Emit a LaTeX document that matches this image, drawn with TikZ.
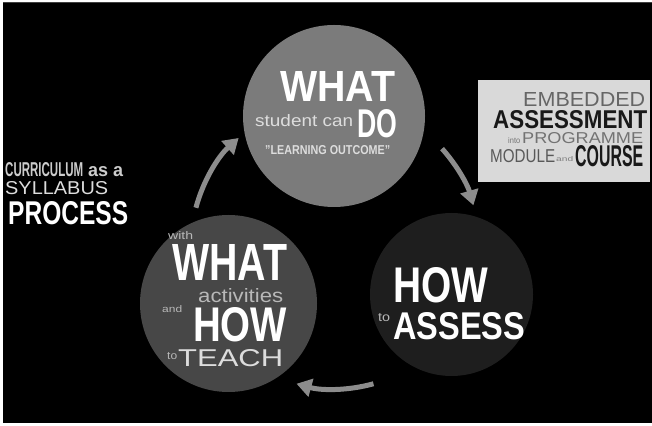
\documentclass[tikz,border=0pt]{standalone}
\usepackage{fontspec}
\setmainfont{Liberation Sans}
\usepackage{graphicx}
\usetikzlibrary{arrows.meta}

\definecolor{topgray}{HTML}{7B7B7B}
\definecolor{midgray}{HTML}{474747}
\definecolor{darkgray}{HTML}{1E1E1E}
\definecolor{arrowgray}{HTML}{8C8C8C}
\definecolor{boxgray}{HTML}{D9D9D9}
\definecolor{softwhite}{HTML}{DDDDDD}
\definecolor{dimwhite}{HTML}{B8B8B8}

% squeeze a word into a box of given width and height (pt)
\newcommand{\fitword}[3]{\resizebox{#1pt}{#2pt}{#3}}

\tikzset{
  word/.style={inner sep=0pt, anchor=south west},
  stage/.style={circle, inner sep=0pt},
  cyclearrow/.style={line width=5pt, draw=arrowgray, -{Triangle[width=18pt,length=15pt]}},
}

\begin{document}
\begin{tikzpicture}[x=1pt,y=1pt]
  \useasboundingbox (0,0) rectangle (652,425);
  \fill[white] (0,0) rectangle (652,425);
  \fill[black] (3,2) rectangle (652,423);
  \draw[black!75,line width=1pt] (3,422.5) -- (652,422.5);

  % the three stages
  \node[stage, fill=topgray, minimum size=182pt] (outcome) at (334,309) {};
  \node[stage, fill=midgray, minimum size=177pt] (teach) at (228.5,121.5) {};
  \node[stage, fill=darkgray, minimum size=163pt] (assess) at (451.5,130.5) {};

  % cycle arrows
  \coordinate (cyc) at (335,180);
  \path (cyc) ++(165:144) coordinate (arrA);
  \path (cyc) ++(42:144) coordinate (arrB);
  \path (cyc) ++(-74.5:144) coordinate (arrC);
  \draw[cyclearrow] (arrA) arc[start angle=165, end angle=132, radius=144];
  \draw[cyclearrow] (arrB) arc[start angle=42, end angle=16, radius=144];
  \draw[cyclearrow] (arrC) arc[start angle=-74.5, end angle=-105.5, radius=144];

  % top stage text
  \node[word, text=white] (whatA) at (280,323) {\fitword{115}{30}{\bfseries WHAT}};
  \node[word, text=softwhite] (student) at (255,298) {\fitword{98}{12}{student can}};
  \node[word, text=white] (doA) at (357,287) {\fitword{40}{28}{\bfseries DO}};
  \node[word, text=softwhite] (lo) at (265,270) {\fitword{125}{9}{\bfseries \symbol{34}LEARNING OUTCOME\symbol{34}}};

  % embedded box
  \fill[boxgray] (478,345) rectangle (650,243);
  \node[word, text=black!60] (embedded) at (523,318) {\fitword{122}{14}{EMBEDDED}};
  \node[word, text=black!90] (assessment) at (493,296) {\fitword{154}{18}{\bfseries ASSESSMENT}};
  \node[word, text=black!55] (into) at (508,281) {\fitword{12}{6}{into}};
  \node[word, text=black!55] (programme) at (522,281) {\fitword{121}{11}{PROGRAMME}};
  \node[word, text=black!65] (module) at (490,262) {\fitword{65}{13}{MODULE}};
  \node[word, text=black!50] (andA) at (556,263) {\fitword{17}{5}{and}};
  \node[word, text=black!90] (course) at (575,258) {\fitword{68}{21}{\bfseries COURSE}};

  % left caption
  \node[word, text=black!20] (curriculum) at (5,248) {\fitword{78}{14}{\bfseries CURRICULUM}};
  \node[word, text=black!20] (asa) at (88,248) {\fitword{35}{10}{\bfseries as a}};
  \node[word, text=softwhite] (syllabus) at (5,230) {\fitword{103}{13}{SYLLABUS}};
  \node[word, text=white] (process) at (8,200) {\fitword{120}{23}{\bfseries PROCESS}};

  % lower left stage text
  \node[word, text=dimwhite] (with) at (168,185) {\fitword{25}{8}{with}};
  \node[word, text=white] (whatB) at (172,144) {\fitword{115}{36}{\bfseries WHAT}};
  \node[word, text=dimwhite] (activities) at (198,122) {\fitword{85}{14}{activities}};
  \node[word, text=dimwhite] (andB) at (162,112) {\fitword{20}{7}{and}};
  \node[word, text=white] (howA) at (193,83) {\fitword{94}{34}{\bfseries HOW}};
  \node[word, text=dimwhite] (toA) at (167,65) {\fitword{10}{7}{to}};
  \node[word, text=softwhite] (teachw) at (178,58) {\fitword{105}{17}{TEACH}};

  % lower right stage text
  \node[word, text=white] (howB) at (393,122) {\fitword{95}{35}{\bfseries HOW}};
  \node[word, text=dimwhite] (toB) at (378,103) {\fitword{12}{8}{to}};
  \node[word, text=white] (assessw) at (393,85) {\fitword{132}{27}{\bfseries ASSESS}};
\end{tikzpicture}
\end{document}
